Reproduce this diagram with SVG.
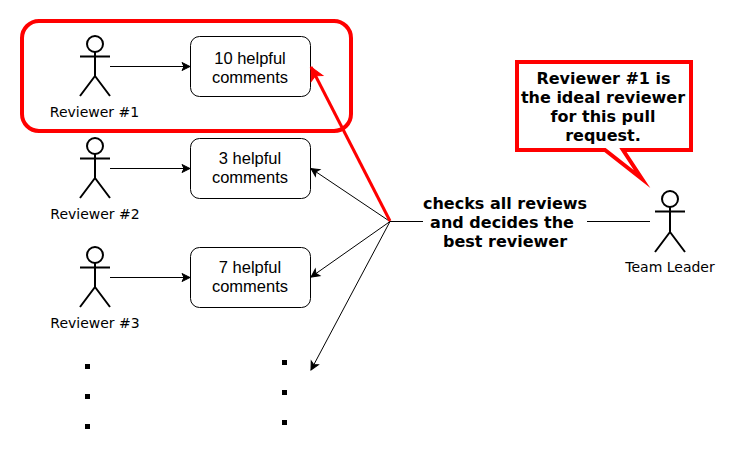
<svg xmlns="http://www.w3.org/2000/svg" width="735" height="451" viewBox="0 0 735 451">
<style>
.actor{fill:none;stroke:#000;stroke-width:2}
.actor circle{fill:#fff}
.lab{font:14px "DejaVu Sans",sans-serif;text-anchor:middle;fill:#000}
.box{fill:#fff;stroke:#000;stroke-width:1}
.bt{font:16.500px "Liberation Sans",Arial,sans-serif;text-anchor:middle;fill:#000}
.bold{font:bold 16px "DejaVu Sans",sans-serif;text-anchor:middle;fill:#000}
.c{fill:none;stroke:#000;stroke-width:1}
.dot{fill:#000}
</style>
<defs>
<marker id="a" markerUnits="userSpaceOnUse" markerWidth="10" markerHeight="10" refX="8" refY="4" orient="auto" overflow="visible"><path d="M0 0L8 4L0 8L2 4Z" fill="#000" stroke="#000" stroke-width="1"/></marker>
<marker id="r" markerUnits="userSpaceOnUse" markerWidth="16" markerHeight="16" refX="13" refY="6.5" orient="auto" overflow="visible"><path d="M0 0L13 6.5L0 13L3.2 6.5Z" fill="#f00" stroke="#f00" stroke-width="1"/></marker>
</defs>
<g id="highlight"><rect x="22" y="21" width="329" height="110" rx="17" fill="none" stroke="#f00" stroke-width="4"/></g>
<g id="reviewer1"><g class="actor"><circle cx="95" cy="44" r="8"/><path d="M95 52V76M80 56.500H110M95 76L80 96M95 76L110 96"/></g><text class="lab" x="94.500" y="117">Reviewer #1</text></g>
<g id="comments1"><rect class="box" x="190.500" y="36.500" width="120" height="60" rx="9"/><text class="bt" x="250" y="64">10 helpful</text><text class="bt" x="250" y="83">comments</text></g>
<g id="reviewer2"><g class="actor"><circle cx="95" cy="146" r="8"/><path d="M95 154V178M80 158.500H110M95 178L80 198M95 178L110 198"/></g><text class="lab" x="95" y="219">Reviewer #2</text></g>
<g id="comments2"><rect class="box" x="190.500" y="138.500" width="120" height="60" rx="9"/><text class="bt" x="250" y="164">3 helpful</text><text class="bt" x="250" y="183">comments</text></g>
<g id="reviewer3"><g class="actor"><circle cx="95" cy="255" r="8"/><path d="M95 263V287M80 267.500H110M95 287L80 307M95 287L110 307"/></g><text class="lab" x="95" y="328">Reviewer #3</text></g>
<g id="comments3"><rect class="box" x="190.500" y="247.500" width="120" height="60" rx="9"/><text class="bt" x="250" y="273">7 helpful</text><text class="bt" x="250" y="292">comments</text></g>
<g id="leader"><g class="actor"><circle cx="670" cy="199" r="8"/><path d="M670 207V232M655 211.500H685M670 232L655 252M670 232L685 252"/></g><text class="lab" x="670" y="272">Team Leader</text></g>
<g id="connectors">
<path class="c" marker-end="url(#a)" d="M110 66.500H190"/>
<path class="c" marker-end="url(#a)" d="M110 168.500H190"/>
<path class="c" marker-end="url(#a)" d="M110 277.500H190"/>
<path class="c" marker-end="url(#a)" d="M390 221.500L311 168.500"/>
<path class="c" marker-end="url(#a)" d="M390 221.500L311 277"/>
<path class="c" marker-end="url(#a)" d="M390 221.500L311 370"/>
<path class="c" d="M390 221.500H423M587 221.500H650"/>
<path fill="none" stroke="#f00" stroke-width="3" marker-end="url(#r)" d="M390 221L311 67"/>
</g>
<g id="decision"><text class="bold" x="505" y="209">checks all reviews</text><text class="bold" x="502" y="228">and decides the</text><text class="bold" x="505" y="247">best reviewer</text></g>
<g id="callout"><path d="M517 62H691V150H623L642 179L605 150H517Z" fill="#fff" stroke="#f00" stroke-width="4" stroke-miterlimit="20"/><text class="bold" x="603.500" y="84">Reviewer #1 is</text><text class="bold" x="603" y="103">the ideal reviewer</text><text class="bold" x="603" y="122">for this pull</text><text class="bold" x="603" y="141">request.</text></g>
<g id="dots">
<rect class="dot" x="85" y="364" width="5" height="5"/><rect class="dot" x="85" y="394" width="5" height="5"/><rect class="dot" x="85" y="424" width="5" height="5"/>
<rect class="dot" x="282" y="360" width="5" height="5"/><rect class="dot" x="282" y="390" width="5" height="5"/><rect class="dot" x="282" y="420" width="5" height="5"/>
</g>
</svg>
